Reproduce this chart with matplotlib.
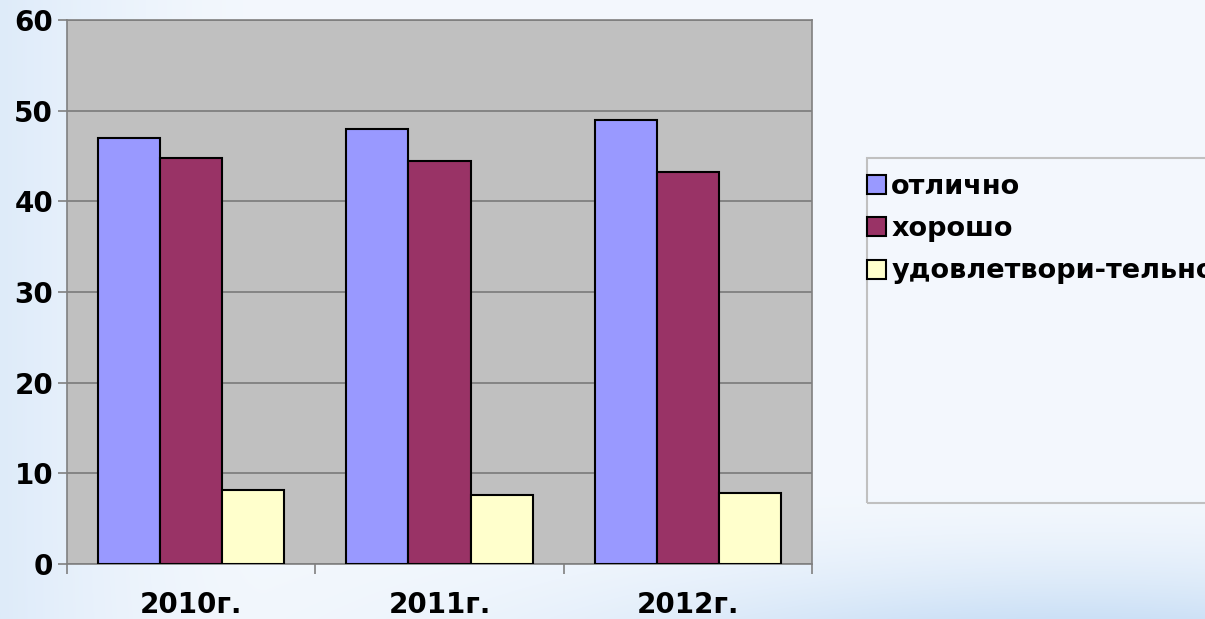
import numpy as np
import matplotlib
matplotlib.use("Agg")
import matplotlib.pyplot as plt
from matplotlib.patches import Rectangle

plt.rcParams['font.family'] = ['DejaVu Sans']

years = ["2010г.", "2011г.", "2012г."]
series_names = ["отлично", "хорошо", "удовлетвори-тельно"]
excellent = [47.0, 48.0, 49.0]
good = [44.8, 44.4, 43.2]
satisfactory = [8.2, 7.6, 7.8]
colors = ["#9999FF", "#993366", "#FFFFCC"]
yticks = [0, 10, 20, 30, 40, 50, 60]

W, H = 1205, 619
fig = plt.figure(figsize=(W / 100, H / 100), dpi=100)

# background gradient
bg = fig.add_axes([0, 0, 1, 1], zorder=-10)
yy, xx = np.mgrid[0:1:300j, 0:1:600j]
base = np.array([0.955, 0.972, 0.993])
left_blue = np.array([0.85, 0.91, 0.975])
bottom_blue = np.array([0.80, 0.88, 0.965])
wl = (np.clip(1 - xx / 0.22, 0, 1) ** 1.5)[..., None] * 0.8
wb = ((np.clip((yy - 0.78) / 0.22, 0, 1) ** 1.8) * np.exp(-((xx - 0.9) / 0.4) ** 2))[..., None]
img = base * (1 - wl) + left_blue * wl
img = img * (1 - wb) + bottom_blue * wb
bg.imshow(img, aspect='auto', extent=[0, 1, 0, 1], origin='upper', interpolation='bilinear')
bg.axis('off')

ax = fig.add_axes([67 / W, 1 - 564 / H, (812 - 67) / W, (564 - 20) / H])
ax.set_facecolor("#C0C0C0")

x = np.arange(len(years))
bw = 0.25
for i, (vals, c) in enumerate(zip([excellent, good, satisfactory], colors)):
    ax.bar(x + (i - 1) * bw, vals, bw, color=c, edgecolor="black", linewidth=1.5,
           label=series_names[i], zorder=3)

ax.set_xlim(-0.5, 2.5)
ax.set_ylim(0, 60)
ax.set_yticks(yticks)
ax.set_yticklabels([str(v) for v in yticks], fontsize=20, fontweight='bold')
ax.grid(axis='y', color="#7a7a7a", linewidth=1.2, zorder=1)
ax.set_axisbelow(True)

ax.set_xticks(x)
ax.set_xticklabels(years, fontsize=20, fontweight='bold')
ax.set_xticks([-0.5, 0.5, 1.5, 2.5], minor=True)
ax.tick_params(axis='x', which='major', length=0, pad=19.5)
ax.tick_params(axis='x', which='minor', length=7, color="#808080", width=1.2)
ax.tick_params(axis='y', length=6.5, color="#808080", width=1.2, pad=3.5)

for s in ax.spines.values():
    s.set_color("#808080")
    s.set_linewidth(1.2)

# legend frame
fig.patches.append(Rectangle((867 / W, 1 - 503 / H), 0.5, (503 - 158) / H,
                             transform=fig.transFigure, facecolor="none",
                             edgecolor="#c0c0c0", linewidth=1.5, zorder=5))
fig.legend(loc='upper left', bbox_to_anchor=(867 / W, 1 - 174 / H),
           frameon=False, prop={'weight': 'bold', 'size': 19.5},
           handlelength=0.7, handleheight=0.7, handletextpad=0.2,
           labelspacing=0.6, borderpad=0, borderaxespad=0)

fig.savefig("out.png", dpi=100)
